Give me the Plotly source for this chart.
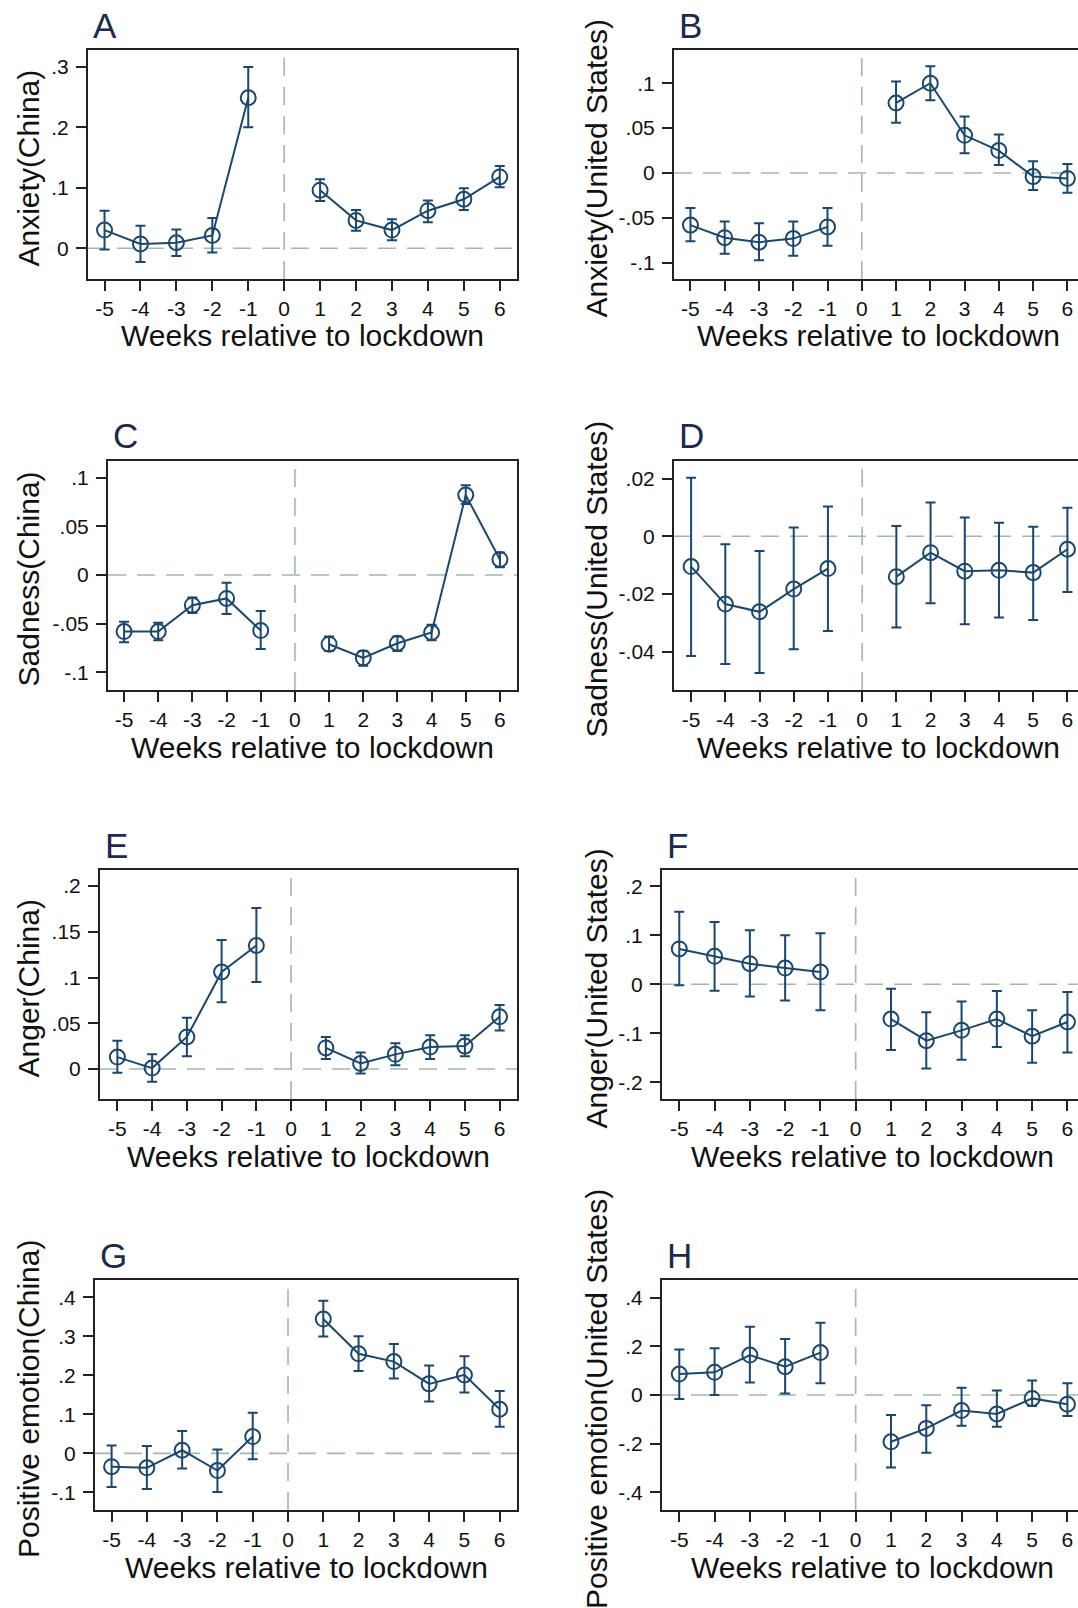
import plotly.graph_objects as go

# ---------------------------------------------------------------
# Event-study estimates: weekly coefficients with 95% CIs
# ---------------------------------------------------------------
weeks = [-5, -4, -3, -2, -1, 1, 2, 3, 4, 5, 6]
week_ticks = [-5, -4, -3, -2, -1, 0, 1, 2, 3, 4, 5, 6]
week_labels = ["-5", "-4", "-3", "-2", "-1", "0", "1", "2", "3", "4", "5", "6"]

# A: Anxiety (China)
anx_cn = [0.030, 0.007, 0.009, 0.021, 0.249, 0.096, 0.046, 0.030, 0.062, 0.081, 0.118]
anx_cn_lo = [-0.002, -0.023, -0.013, -0.007, 0.200, 0.078, 0.029, 0.013, 0.043, 0.063, 0.101]
anx_cn_hi = [0.062, 0.037, 0.031, 0.050, 0.300, 0.114, 0.063, 0.048, 0.079, 0.099, 0.136]

# B: Anxiety (United States)
anx_us = [-0.058, -0.072, -0.077, -0.073, -0.060, 0.078, 0.100, 0.042, 0.025, -0.004, -0.006]
anx_us_lo = [-0.076, -0.090, -0.097, -0.092, -0.081, 0.056, 0.081, 0.022, 0.009, -0.019, -0.022]
anx_us_hi = [-0.039, -0.054, -0.056, -0.054, -0.039, 0.102, 0.119, 0.063, 0.043, 0.013, 0.010]

# C: Sadness (China)
sad_cn = [-0.058, -0.058, -0.031, -0.024, -0.057, -0.071, -0.085, -0.070, -0.059, 0.082, 0.016]
sad_cn_lo = [-0.069, -0.067, -0.039, -0.040, -0.076, -0.078, -0.093, -0.078, -0.067, 0.073, 0.008]
sad_cn_hi = [-0.048, -0.049, -0.023, -0.008, -0.037, -0.063, -0.078, -0.063, -0.051, 0.092, 0.023]

# D: Sadness (United States)
sad_us = [-0.0105, -0.0235, -0.0262, -0.0183, -0.0112, -0.0140, -0.0057, -0.0121, -0.0118, -0.0126, -0.0045]
sad_us_lo = [-0.0415, -0.0443, -0.0474, -0.0392, -0.0328, -0.0316, -0.0232, -0.0305, -0.0282, -0.0290, -0.0193]
sad_us_hi = [0.0203, -0.0028, -0.0051, 0.0030, 0.0103, 0.0036, 0.0117, 0.0065, 0.0047, 0.0033, 0.0099]

# E: Anger (China)
ang_cn = [0.013, 0.001, 0.035, 0.106, 0.135, 0.023, 0.006, 0.016, 0.024, 0.025, 0.057]
ang_cn_lo = [-0.004, -0.014, 0.014, 0.073, 0.095, 0.011, -0.005, 0.004, 0.011, 0.014, 0.042]
ang_cn_hi = [0.031, 0.016, 0.056, 0.141, 0.176, 0.035, 0.018, 0.028, 0.037, 0.037, 0.070]

# F: Anger (United States)
ang_us = [0.072, 0.057, 0.042, 0.033, 0.025, -0.071, -0.115, -0.094, -0.071, -0.106, -0.077]
ang_us_lo = [-0.002, -0.013, -0.025, -0.033, -0.053, -0.134, -0.172, -0.154, -0.128, -0.160, -0.139]
ang_us_hi = [0.148, 0.127, 0.110, 0.100, 0.104, -0.009, -0.057, -0.035, -0.014, -0.053, -0.016]

# G: Positive emotion (China)
pos_cn = [-0.034, -0.037, 0.008, -0.044, 0.043, 0.344, 0.255, 0.235, 0.178, 0.201, 0.113]
pos_cn_lo = [-0.086, -0.091, -0.039, -0.099, -0.015, 0.299, 0.211, 0.192, 0.133, 0.156, 0.068]
pos_cn_hi = [0.020, 0.019, 0.057, 0.010, 0.104, 0.391, 0.300, 0.280, 0.225, 0.249, 0.160]

# H: Positive emotion (United States)
pos_us = [0.086, 0.093, 0.164, 0.116, 0.174, -0.192, -0.137, -0.064, -0.078, -0.014, -0.038]
pos_us_lo = [-0.016, 0.000, 0.051, 0.006, 0.048, -0.298, -0.237, -0.126, -0.130, -0.045, -0.086]
pos_us_hi = [0.187, 0.192, 0.280, 0.230, 0.297, -0.082, -0.042, 0.030, 0.018, 0.060, 0.048]

# ---------------------------------------------------------------
# Figure set-up
# ---------------------------------------------------------------
W, H = 1078, 1608
NAVY = "#1a476f"
REF = "#a3b7ae"
AXIS = "#222222"
FONT = "Liberation Sans, Arial, sans-serif"

panels = [
    dict(letter="A", ytitle="Anxiety(China)", est=anx_cn, lo=anx_cn_lo, hi=anx_cn_hi,
         yt=[0, 0.1, 0.2, 0.3], ytt=["0", ".1", ".2", ".3"],
         yr=[-0.051, 0.328], xr=[-5.46, 6.48], box=(88, 517, 50, 279), right=False),
    dict(letter="B", ytitle="Anxiety(United States)", est=anx_us, lo=anx_us_lo, hi=anx_us_hi,
         yt=[-0.1, -0.05, 0, 0.05, 0.1], ytt=["-.1", "-.05", "0", ".05", ".1"],
         yr=[-0.118, 0.137], xr=[-5.48, 6.31], box=(674, 1078, 50, 279), right=True),
    dict(letter="C", ytitle="Sadness(China)", est=sad_cn, lo=sad_cn_lo, hi=sad_cn_hi,
         yt=[-0.1, -0.05, 0, 0.05, 0.1], ytt=["-.1", "-.05", "0", ".05", ".1"],
         yr=[-0.118, 0.117], xr=[-5.47, 6.50], box=(108, 517, 461, 690), right=False),
    dict(letter="D", ytitle="Sadness(United States)", est=sad_us, lo=sad_us_lo, hi=sad_us_hi,
         yt=[-0.04, -0.02, 0, 0.02], ytt=["-.04", "-.02", "0", ".02"],
         yr=[-0.0533, 0.0261], xr=[-5.50, 6.31], box=(674, 1078, 461, 690), right=True),
    dict(letter="E", ytitle="Anger(China)", est=ang_cn, lo=ang_cn_lo, hi=ang_cn_hi,
         yt=[0, 0.05, 0.1, 0.15, 0.2], ytt=["0", ".05", ".1", ".15", ".2"],
         yr=[-0.0328, 0.2175], xr=[-5.50, 6.50], box=(100, 517, 870, 1099), right=False),
    dict(letter="F", ytitle="Anger(United States)", est=ang_us, lo=ang_us_lo, hi=ang_us_hi,
         yt=[-0.2, -0.1, 0, 0.1, 0.2], ytt=["-.2", "-.1", "0", ".1", ".2"],
         yr=[-0.234, 0.233], xr=[-5.49, 6.30], box=(662, 1078, 870, 1099), right=True),
    dict(letter="G", ytitle="Positive emotion(China)", est=pos_cn, lo=pos_cn_lo, hi=pos_cn_hi,
         yt=[-0.1, 0, 0.1, 0.2, 0.3, 0.4], ytt=["-.1", "0", ".1", ".2", ".3", ".4"],
         yr=[-0.145, 0.444], xr=[-5.47, 6.49], box=(95, 517, 1280, 1510), right=False),
    dict(letter="H", ytitle="Positive emotion(United States)", est=pos_us, lo=pos_us_lo, hi=pos_us_hi,
         yt=[-0.4, -0.2, 0, 0.2, 0.4], ytt=["-.4", "-.2", "0", ".2", ".4"],
         yr=[-0.472, 0.472], xr=[-5.49, 6.30], box=(662, 1078, 1280, 1510), right=True),
]


def px(x):
    return x / W


def py(y):
    return 1 - y / H


fig = go.Figure()
shapes, annotations = [], []

for i, p in enumerate(panels, start=1):
    sfx = "" if i == 1 else str(i)
    xa, ya = "x" + sfx, "y" + sfx
    left, right, top, bottom = p["box"]

    # pre- and post-lockdown segments drawn separately (no line across week 0)
    for keep in (lambda w: w < 0, lambda w: w > 0):
        idx = [k for k, w in enumerate(weeks) if keep(w)]
        xs = [weeks[k] for k in idx]
        ys = [p["est"][k] for k in idx]
        up = [p["hi"][k] - p["est"][k] for k in idx]
        dn = [p["est"][k] - p["lo"][k] for k in idx]
        fig.add_trace(go.Scatter(
            x=xs, y=ys, xaxis=xa, yaxis=ya, mode="lines+markers",
            line=dict(color=NAVY, width=2),
            marker=dict(symbol="circle-open", size=15, color=NAVY, line=dict(width=2, color=NAVY)),
            error_y=dict(type="data", symmetric=False, array=up, arrayminus=dn,
                         color=NAVY, thickness=2, width=5),
            showlegend=False, hoverinfo="skip",
        ))

    # dashed reference lines at zero effect and at lockdown week
    shapes.append(dict(type="line", xref=xa + " domain", yref=ya, x0=0, x1=1, y0=0, y1=0,
                       line=dict(color=REF, width=1.6, dash="18px,11px"), layer="below"))
    shapes.append(dict(type="line", xref=xa, yref=ya + " domain", x0=0, x1=0, y0=0, y1=1,
                       line=dict(color=REF, width=1.6, dash="18px,11px"), layer="below"))

    axis_common = dict(showgrid=False, zeroline=False, showline=True, linecolor=AXIS, linewidth=2,
                       ticks="outside", ticklen=10, tickwidth=1.8, tickcolor=AXIS,
                       tickfont=dict(family=FONT, size=21, color="#111111"))
    fig.layout["xaxis" + sfx] = dict(
        domain=[px(left), px(right)], range=p["xr"], anchor=ya,
        tickvals=week_ticks, ticktext=week_labels, mirror=True,
        ticklabelstandoff=0, **axis_common)
    fig.layout["yaxis" + sfx] = dict(
        domain=[py(bottom), py(top)], range=p["yr"], anchor=xa,
        tickvals=p["yt"], ticktext=p["ytt"], mirror=not p["right"],
        ticklabelstandoff=3, **axis_common)

    cx = (left + right) / 2 if not p["right"] else (left + 1082) / 2
    annotations.append(dict(text="Weeks relative to lockdown", xref="paper", yref="paper",
                            x=px(cx), y=py(bottom + 57), xanchor="center", yanchor="middle",
                            showarrow=False, font=dict(family=FONT, size=30, color="#111111")))
    tx = 28 if not p["right"] else 596
    annotations.append(dict(text=p["ytitle"], xref="paper", yref="paper", textangle=-90,
                            x=px(tx), y=py((top + bottom) / 2 + 4), xanchor="center", yanchor="middle",
                            showarrow=False, font=dict(family=FONT, size=30, color="#111111")))
    annotations.append(dict(text=p["letter"], xref="paper", yref="paper",
                            x=px(left + 3), y=py(top - 25), xanchor="left", yanchor="middle",
                            showarrow=False, font=dict(family=FONT, size=35, color="#1c2a4e")))

fig.update_layout(
    width=W, height=H, margin=dict(l=0, r=0, t=0, b=0),
    paper_bgcolor="white", plot_bgcolor="white",
    shapes=shapes, annotations=annotations,
    font=dict(family=FONT),
)

fig.write_html("out.html")
